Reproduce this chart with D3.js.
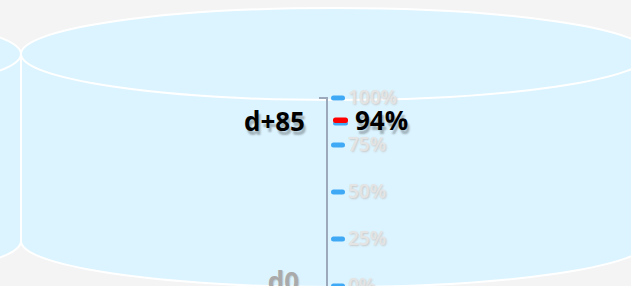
<!DOCTYPE html>
<html lang="en">
<head>
  <meta charset="UTF-8">
  <title>Level gauge</title>
  <script src="https://d3js.org/d3.v7.min.js"></script>
  <style>
    body {
      margin: 0;
      background: #f4f4f4;
      font-family: 'Open Sans', sans-serif;
    }
    svg { display: block; }
    text.tick-label {
      font-size: 19px;
      font-weight: 600;
      fill: #e4e4e4;
      text-shadow: 1px 1px 2px #c8c8c8;
    }
    text.big {
      font-size: 26px;
      font-weight: 700;
    }
  </style>
</head>
<body>

<svg width="631" height="286"></svg>

<script>
  const width = 631, height = 286;

  // data
  const tickValues = [0, 25, 50, 75, 100];
  const tickLabels = ["0%", "25%", "50%", "75%", "100%"];
  const baseLabel = "d0";
  const currentLabel = "d+85";
  const currentText = "94%";
  const currentLevel = 88;     // where the marker sits on the scale
  const cylinders = [-1, 0];   // tank index, 0 = the one holding the axis

  const svg = d3.select("svg");

  const axisX = 327;
  const rx = 314, ry = 46;
  const topY = 54, bottomY = 241;
  const tankCx = i => 335 + i * 2 * rx;

  const y = d3.scaleLinear()
    .domain([0, 100])
    .range([286, 98]);

  // Tanks
  const tank = svg.selectAll("g.tank")
    .data(cylinders)
    .enter()
    .append("g")
    .attr("class", "tank");

  tank.append("path")
    .attr("fill", "#dcf4ff")
    .attr("d", d => {
      const cx = tankCx(d);
      return `M${cx - rx},${topY} L${cx - rx},${bottomY} A${rx},${ry} 0 0 0 ${cx + rx},${bottomY} L${cx + rx},${topY} Z`;
    });

  tank.append("path")
    .attr("fill", "none")
    .attr("stroke", "#fff")
    .attr("stroke-width", 2)
    .attr("d", d => {
      const cx = tankCx(d);
      return `M${cx - rx},${topY} L${cx - rx},${bottomY} A${rx},${ry} 0 0 0 ${cx + rx},${bottomY} L${cx + rx},${topY}`;
    });

  tank.append("ellipse")
    .attr("cx", d => tankCx(d))
    .attr("cy", topY)
    .attr("rx", rx)
    .attr("ry", ry)
    .attr("fill", "#dcf4ff")
    .attr("stroke", "#fff")
    .attr("stroke-width", 2);

  // Axis
  const axis = svg.append("g");

  axis.append("path")
    .attr("fill", "none")
    .attr("stroke", "#9ca8bb")
    .attr("stroke-width", 2)
    .attr("d", `M${axisX - 8},${y(100)} H${axisX} V${height + 5}`);

  axis.selectAll("rect.tick")
    .data(tickValues)
    .enter()
    .append("rect")
    .attr("class", "tick")
    .attr("x", axisX + 4)
    .attr("y", d => y(d) - 2.5)
    .attr("width", 14)
    .attr("height", 5)
    .attr("rx", 2.5)
    .attr("fill", "#3fa9f5");

  axis.selectAll("text.tick-label")
    .data(tickValues)
    .enter()
    .append("text")
    .attr("class", "tick-label")
    .attr("x", axisX + 21)
    .attr("y", d => y(d) + 6)
    .text((d, i) => tickLabels[i]);

  // Marker for the current value
  const my = y(currentLevel);

  svg.append("rect")
    .attr("x", axisX + 6)
    .attr("y", my + 1)
    .attr("width", 15)
    .attr("height", 4)
    .attr("rx", 2)
    .attr("fill", "#3fa9f5");

  svg.append("rect")
    .attr("x", axisX + 6)
    .attr("y", my - 3)
    .attr("width", 15)
    .attr("height", 5.5)
    .attr("rx", 2.5)
    .attr("fill", "#ff0000");

  svg.append("text")
    .attr("class", "big")
    .attr("x", axisX + 28)
    .attr("y", my + 9)
    .attr("fill", "#000")
    .style("text-shadow", "2px 4px 2px rgba(0,0,0,0.28)")
    .text(currentText);

  svg.append("text")
    .attr("class", "big")
    .attr("x", axisX - 22)
    .attr("y", my + 10)
    .attr("text-anchor", "end")
    .attr("fill", "#000")
    .style("text-shadow", "2px 4px 2px rgba(0,0,0,0.28)")
    .text(currentLabel);

  svg.append("text")
    .attr("class", "big")
    .attr("x", axisX - 28)
    .attr("y", y(0) + 5)
    .attr("text-anchor", "end")
    .attr("fill", "#aaaaaa")
    .style("text-shadow", "1px 1px 1px rgba(0,0,0,0.15)")
    .text(baseLabel);
</script>

</body>
</html>
